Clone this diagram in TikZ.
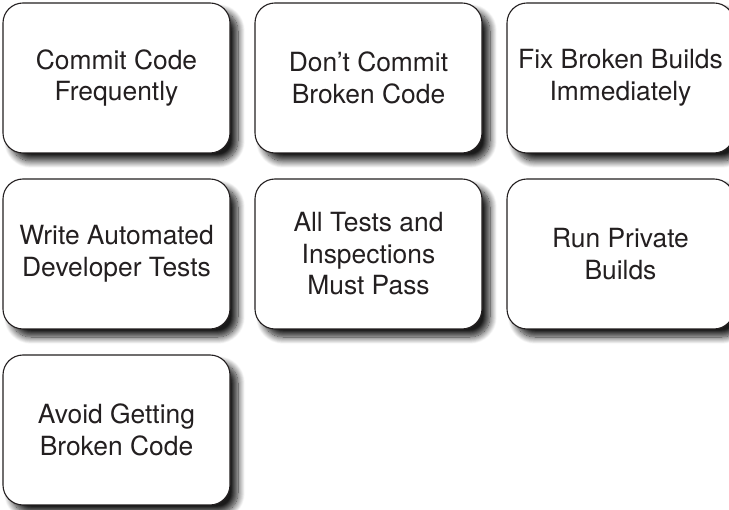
\documentclass[tikz,border=0pt]{standalone}
\usepackage{fontspec}
\setmainfont{TeX Gyre Heros}
\usepackage{xcolor}
\usepackage{tikz}
\usetikzlibrary{shadows.blur}
\definecolor{figline}{RGB}{35,31,32}
\definecolor{figtext}{RGB}{35,31,32}
\tikzset{
  card/.style ={draw=figline, line width=1.1pt, fill=white, rounded corners=20pt,
                minimum width=227pt, minimum height=150pt, align=center, inner sep=0pt,
                text=figtext, font=\fontsize{26.4}{31.5}\selectfont,
                blur shadow={shadow xshift=8pt, shadow yshift=-8pt,
                  shadow blur radius=7pt, shadow blur steps=14, shadow opacity=90}},
}

\begin{document}
\begin{tikzpicture}[x=1pt,y=-1pt]
  \useasboundingbox (0,0) rectangle (729,510);
  % first row
  \node[card] (commit)  at (116.5,78) {Commit Code\\Frequently};
  \node[card] (nobreak) at (368.5,78) {Don’t Commit\\Broken Code};
  \node[card] (fixnow)  at (620.5,78) {Fix Broken Builds\\Immediately};
  % second row
  \node[card] (autotest) at (116.5,254) {Write Automated\\Developer Tests};
  \node[card] (allpass)  at (368.5,254) {All Tests and\\Inspections\\Must Pass};
  \node[card] (private)  at (620.5,254) {Run Private\\Builds};
  % third row
  \node[card] (avoid) at (116.5,430) {Avoid Getting\\Broken Code};
\end{tikzpicture}
\end{document}
